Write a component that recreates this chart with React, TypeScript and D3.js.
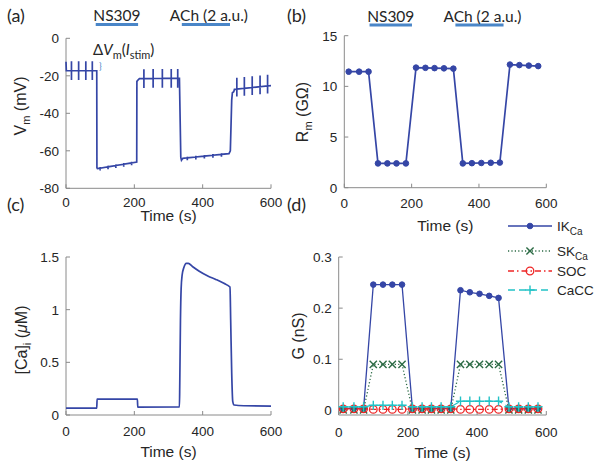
import React from 'react';
import * as d3 from 'd3';

// ---------- shared ----------
const timeTicks = [0, 200, 400, 600];

// ---------- (a) membrane potential ----------
const vmBreakT = [0, 1, 90, 90.5, 92, 207, 207.5, 212, 215, 332, 336, 338, 342, 477, 481, 485, 487, 491, 493, 600];
const vmBreakV = [-12.5, -17.3, -17.3, -69, -69.5, -66, -23, -22, -21.5, -21.3, -63.5, -65, -64, -61.5, -60, -33, -29, -28.5, -27.2, -25.2];
const vmSpikeT = [16, 37, 58, 77, 100, 123, 146, 169, 192, 228, 255, 282, 308, 327, 355, 380, 405, 430, 455, 500, 522, 545, 568, 590];
const vmSpikeUp = [5, 5, 5, 5, 0.6, 0.6, 0.6, 0.6, 0.6, 5, 5, 5, 5, 5, 0.6, 0.6, 0.6, 0.6, 0.6, 6, 6, 6, 6, 6];
const vmSpikeDown = [5, 5, 5, 5, 1.3, 1.3, 1.3, 1.3, 1.3, 5, 5, 5, 5, 5, 1.3, 1.3, 1.3, 1.3, 1.3, 4, 4, 4, 4, 4];
const vmTicks = [0, -20, -40, -60, -80];

// ---------- (b) membrane resistance ----------
const rmT = [13, 44, 72, 100, 128, 155, 183, 213, 241, 268, 296, 324, 352, 379, 407, 435, 462, 492, 520, 548, 576];
const rmV = [11.45, 11.45, 11.45, 2.4, 2.4, 2.4, 2.4, 11.85, 11.83, 11.8, 11.78, 11.75, 2.4, 2.42, 2.44, 2.46, 2.48, 12.15, 12.1, 12.05, 12.0];
const rmTicks = [0, 5, 10, 15];

// ---------- (c) intracellular calcium ----------
const caT = [0, 90, 91, 209, 210, 332, 333, 335, 337, 340, 345, 352, 358, 370, 390, 415, 440, 462, 480, 482, 485, 488, 492, 520, 600];
const caV = [0.065, 0.065, 0.15, 0.15, 0.075, 0.078, 0.3, 0.9, 1.2, 1.33, 1.40, 1.44, 1.44, 1.41, 1.365, 1.32, 1.285, 1.25, 1.215, 0.9, 0.4, 0.13, 0.095, 0.088, 0.085];
const caTicks = [0, 0.5, 1, 1.5];

// ---------- (d) conductances ----------
const gT = rmT;
const gIKCa = [0.004, 0.004, 0.004, 0.246, 0.246, 0.246, 0.246, 0.004, 0.004, 0.004, 0.004, 0.004, 0.235, 0.231, 0.228, 0.224, 0.220, 0.004, 0.004, 0.004, 0.004];
const gSKCa = [0.001, 0.001, 0.001, 0.09, 0.09, 0.09, 0.09, 0.001, 0.001, 0.001, 0.001, 0.001, 0.09, 0.09, 0.09, 0.09, 0.09, 0.001, 0.001, 0.001, 0.001];
const gSOC = [0.003, 0.003, 0.003, 0.002, 0.002, 0.002, 0.002, 0.003, 0.003, 0.003, 0.003, 0.003, 0.002, 0.002, 0.002, 0.002, 0.002, 0.003, 0.003, 0.003, 0.003];
const gCaCC = [0.007, 0.007, 0.007, 0.010, 0.010, 0.010, 0.010, 0.007, 0.007, 0.007, 0.007, 0.007, 0.018, 0.018, 0.018, 0.018, 0.018, 0.007, 0.007, 0.007, 0.007];
const gTicks = [0, 0.1, 0.2, 0.3];
const legendNames = ['IK', 'SK', 'SOC', 'CaCC'];
const legendSubs = ['Ca', 'Ca', '', ''];

// ---------- stimulus bars ----------
const barLabels = ['NS309', 'ACh (2 a.u.)'];
const barsA = [[87, 211], [339, 480]];
const barsB = [[75, 201], [330, 473]];

// ---------- styles ----------
const NAVY = '#3546a6';
const BAR = '#4a86c8';
const GREEN = '#2c6b45';
const RED = '#ee2626';
const CYAN = '#22c2c6';
const AXIS = '#8a8a8a';
const TXT = '#262626';
const SANS = "'Liberation Sans', Arial, sans-serif";
const HUM = "Lato, 'Open Sans', sans-serif";

type Scale = d3.ScaleLinear<number, number>;

function Axes({ xs, ys, yTicks, fmt, tickBase, labelBase }: { xs: Scale; ys: Scale; yTicks: number[]; fmt: (v: number) => string; tickBase: number; labelBase: number }) {
  const [x0, x1] = xs.range();
  const [y0, y1] = ys.range();
  return (
    <g>
      <line x1={x0} x2={x0} y1={y0} y2={y1} stroke={AXIS} strokeWidth={1} />
      <line x1={x0} x2={x1} y1={y0} y2={y0} stroke={AXIS} strokeWidth={1} />
      {yTicks.map((v) => (
        <g key={'y' + v}>
          <line x1={x0} x2={x0 + 4} y1={ys(v)} y2={ys(v)} stroke={AXIS} />
          <text x={x0 - 7} y={ys(v)} dy="0.36em" textAnchor="end" fontFamily={SANS} fontSize={13.5} fill={TXT}>{fmt(v)}</text>
        </g>
      ))}
      {timeTicks.map((t) => (
        <g key={'x' + t}>
          <line x1={xs(t)} x2={xs(t)} y1={y0} y2={y0 - 4} stroke={AXIS} />
          <text x={xs(t)} y={tickBase} textAnchor="middle" fontFamily={SANS} fontSize={13.5} fill={TXT}>{t}</text>
        </g>
      ))}
      <text x={(x0 + x1) / 2} y={labelBase} textAnchor="middle" fontFamily={SANS} fontSize={15.5} fill={TXT}>Time (s)</text>
    </g>
  );
}

function Bars({ xs, bars, y, textY }: { xs: Scale; bars: number[][]; y: number; textY: number }) {
  return (
    <g>
      {bars.map((b, i) => {
        const cx = (xs(b[0]) + xs(b[1])) / 2 + (i === 1 ? 3 : 0);
        return (
          <g key={i}>
            <line x1={xs(b[0])} x2={xs(b[1])} y1={y} y2={y} stroke={BAR} strokeWidth={3} />
            <text x={cx} y={textY} textAnchor="middle" fontFamily={HUM} fontSize={15.5} fill={TXT}>{barLabels[i]}</text>
          </g>
        );
      })}
    </g>
  );
}

function Marker({ kind, x, y, color }: { kind: string; x: number; y: number; color: string }) {
  if (kind === 'dot') return <circle cx={x} cy={y} r={2.8} fill={color} stroke={color} />;
  if (kind === 'x') {
    const s = 3.6;
    return <path d={`M${x - s},${y - s}L${x + s},${y + s}M${x - s},${y + s}L${x + s},${y - s}`} stroke={color} strokeWidth={1.4} fill="none" />;
  }
  if (kind === 'o') return <circle cx={x} cy={y} r={3.8} fill="none" stroke={color} strokeWidth={1.3} />;
  const s = 4.6;
  return <path d={`M${x - s},${y}L${x + s},${y}M${x},${y - s}L${x},${y + s}`} stroke={color} strokeWidth={1.4} fill="none" />;
}

export default function App() {
  // scales
  const xA = d3.scaleLinear().domain([0, 600]).range([66, 271]);
  const yA = d3.scaleLinear().domain([-80, 0]).range([188.3, 38.3]);
  const xB = d3.scaleLinear().domain([0, 600]).range([344.3, 546.3]);
  const yB = d3.scaleLinear().domain([0, 15]).range([187.7, 35.7]);
  const xC = d3.scaleLinear().domain([0, 600]).range([66, 271]);
  const yC = d3.scaleLinear().domain([0, 1.5]).range([415, 257]);
  const xD = d3.scaleLinear().domain([0, 600]).range([338.7, 546.3]);
  const yD = d3.scaleLinear().domain([-0.009, 0.3]).range([415, 257]);

  // (a) trace: baseline breakpoints with stimulus deflections inserted
  const baseInterp = d3.scaleLinear().domain(vmBreakT).range(vmBreakV);
  const items: { t: number; pts: [number, number][] }[] = [];
  vmBreakT.forEach((t, i) => items.push({ t, pts: [[t, vmBreakV[i]]] }));
  vmSpikeT.forEach((t, i) => {
    const b = baseInterp(t);
    items.push({ t, pts: [[t, b], [t, b + vmSpikeUp[i]], [t, b - vmSpikeDown[i]], [t, b]] });
  });
  items.sort((a, b) => a.t - b.t);
  const vmPts = items.flatMap((d) => d.pts);
  const lineA = d3.line<[number, number]>().x((d) => xA(d[0])).y((d) => yA(d[1]));

  const rmPts = rmT.map((t, i) => [t, rmV[i]] as [number, number]);
  const lineB = d3.line<[number, number]>().x((d) => xB(d[0])).y((d) => yB(d[1]));

  const caPts = caT.map((t, i) => [t, caV[i]] as [number, number]);
  const lineC = d3.line<[number, number]>().x((d) => xC(d[0])).y((d) => yC(d[1])).curve(d3.curveMonotoneX);

  const lineD = d3.line<[number, number]>().x((d) => xD(d[0])).y((d) => yD(d[1]));
  const gSeries = [
    { vals: gIKCa, color: NAVY, dash: undefined as string | undefined, kind: 'dot' },
    { vals: gSKCa, color: GREEN, dash: '1.2,2.2', kind: 'x' },
    { vals: gSOC, color: RED, dash: '6,3,1.5,3', kind: 'o' },
    { vals: gCaCC, color: CYAN, dash: '7,4', kind: '+' },
  ];
  const legendY = [226, 251, 271, 290];

  return (
    <svg width={604} height={473} style={{ position: 'absolute', left: 0, top: 0, background: '#fff' }}>
      <rect x={0} y={0} width={604} height={473} fill="#fff" />
      {/* panel letters */}
      <text x={7} y={22} fontFamily={HUM} fontSize={18} fill={TXT}>(a)</text>
      <text x={287} y={22} fontFamily={HUM} fontSize={18} fill={TXT}>(b)</text>
      <text x={7} y={211} fontFamily={HUM} fontSize={18} fill={TXT}>(c)</text>
      <text x={287} y={211} fontFamily={HUM} fontSize={18} fill={TXT}>(d)</text>

      {/* (a) */}
      <Bars xs={xA} bars={barsA} y={24.5} textY={21} />
      <Axes xs={xA} ys={yA} yTicks={vmTicks} fmt={(v) => String(v)} tickBase={207} labelBase={221} />
      <path d={lineA(vmPts) || ''} fill="none" stroke={NAVY} strokeWidth={1.7} />
      <text x={93} y={55} fontFamily={HUM} fontSize={15} fill={TXT}>
        Δ<tspan fontStyle="italic">V</tspan><tspan dy={3.5} fontSize={11}>m</tspan><tspan dy={-3.5}>(</tspan><tspan fontStyle="italic">I</tspan><tspan dy={3.5} fontSize={11}>stim</tspan><tspan dy={-3.5}>)</tspan>
      </text>
      <text x={99} y={69} fontFamily={HUM} fontSize={9} fill={BAR}>{'}'}</text>
      <text transform="translate(25.5,106) rotate(-90)" textAnchor="middle" fontFamily={SANS} fontSize={16} fill={TXT}>
        V<tspan dy={4} fontSize={11}>m</tspan><tspan dy={-4}> (mV)</tspan>
      </text>

      {/* (b) */}
      <Bars xs={xB} bars={barsB} y={25} textY={21.5} />
      <Axes xs={xB} ys={yB} yTicks={rmTicks} fmt={(v) => String(v)} tickBase={208} labelBase={231} />
      <path d={lineB(rmPts) || ''} fill="none" stroke={NAVY} strokeWidth={1.7} />
      {rmPts.map((p, i) => <Marker key={i} kind="dot" x={xB(p[0])} y={yB(p[1])} color={NAVY} />)}
      <text transform="translate(307.5,112) rotate(-90)" textAnchor="middle" fontFamily={SANS} fontSize={16} fill={TXT}>
        R<tspan dy={4} fontSize={11}>m</tspan><tspan dy={-4}> (GΩ)</tspan>
      </text>

      {/* (c) */}
      <Axes xs={xC} ys={yC} yTicks={caTicks} fmt={(v) => String(v)} tickBase={436} labelBase={457} />
      <path d={lineC(caPts) || ''} fill="none" stroke={NAVY} strokeWidth={1.7} />
      <text transform="translate(27,340) rotate(-90)" textAnchor="middle" fontFamily={SANS} fontSize={16} fill={TXT}>
        [Ca]<tspan dy={4} fontSize={11}>i</tspan><tspan dy={-4}> (</tspan><tspan fontStyle="italic">μ</tspan>M)
      </text>

      {/* (d) */}
      <Axes xs={xD} ys={yD} yTicks={gTicks} fmt={(v) => (v === 0 ? '0' : String(v))} tickBase={437} labelBase={457.5} />
      {gSeries.map((s, si) => {
        const pts = gT.map((t, i) => [t, s.vals[i]] as [number, number]);
        return (
          <g key={si}>
            <path d={lineD(pts) || ''} fill="none" stroke={s.color} strokeWidth={1.3} strokeDasharray={s.dash} />
            {pts.map((p, i) => <Marker key={i} kind={s.kind} x={xD(p[0])} y={yD(p[1])} color={s.color} />)}
          </g>
        );
      })}
      <text transform="translate(304,336) rotate(-90)" textAnchor="middle" fontFamily={SANS} fontSize={16} fill={TXT}>G (nS)</text>

      {/* legend */}
      {gSeries.map((s, i) => (
        <g key={'lg' + i}>
          <line x1={508} x2={552} y1={legendY[i]} y2={legendY[i]} stroke={s.color} strokeWidth={1.3} strokeDasharray={s.dash} />
          <Marker kind={s.kind} x={530} y={legendY[i]} color={s.color} />
          <text x={557} y={legendY[i]} dy="0.36em" fontFamily={SANS} fontSize={13.5} fill={TXT}>
            {legendNames[i]}
            {legendSubs[i] ? <tspan dy={4} fontSize={10}>{legendSubs[i]}</tspan> : null}
          </text>
        </g>
      ))}
    </svg>
  );
}
